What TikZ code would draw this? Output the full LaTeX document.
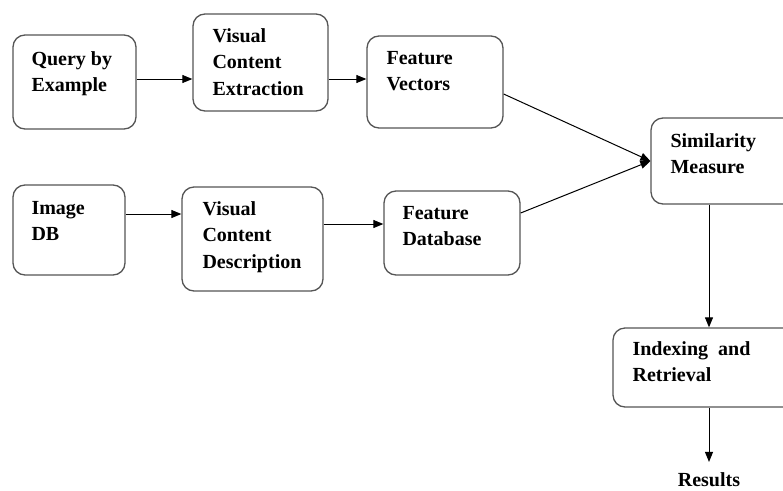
\documentclass[tikz,border=0pt]{standalone}
\usepackage{fontspec}
\setmainfont{Liberation Serif}
\usetikzlibrary{positioning,arrows.meta,calc}
\definecolor{cbEdge}{RGB}{85,85,85}
\newcommand{\boxlines}[1]{\begin{tabular}[t]{@{}l@{}}#1\end{tabular}}

\begin{document}
\begin{tikzpicture}[x=1pt, y=-1pt,
  box/.style={draw=cbEdge, line width=1.3pt, rounded corners=12pt, inner sep=0pt},
  lbl/.style={anchor=base west, inner sep=0pt, font=\bfseries\fontsize{20}{26.5}\selectfont},
  arr/.style={-{Triangle[length=10pt,width=8pt]}, line width=1pt}]
  \useasboundingbox (0,0) rectangle (783,490);
  \clip (0,0) rectangle (783,490);

  % Query side
  \node[box, minimum width=123pt, minimum height=94pt] (qbe) at (74.5,82) {};
  \node[lbl] (qbeText) at ($(qbe.north west)+(19,31)$) {\boxlines{Query by\\Example}};
  \node[box, minimum width=135pt, minimum height=97pt] (vce) at (260.5,62.5) {};
  \node[lbl] (vceText) at ($(vce.north west)+(20,29)$) {\boxlines{Visual\\Content\\Extraction}};
  \node[box, minimum width=136pt, minimum height=92pt] (fv) at (435,82) {};
  \node[lbl] (fvText) at ($(fv.north west)+(20,29)$) {\boxlines{Feature\\Vectors}};

  % Database side
  \node[box, minimum width=112pt, minimum height=90pt] (imgdb) at (69,230) {};
  \node[lbl] (imgdbText) at ($(imgdb.north west)+(19,30)$) {\boxlines{Image\\DB}};
  \node[box, minimum width=141pt, minimum height=104pt] (vcd) at (252.5,239) {};
  \node[lbl] (vcdText) at ($(vcd.north west)+(21,29)$) {\boxlines{Visual\\Content\\Description}};
  \node[box, minimum width=136pt, minimum height=84pt] (fdb) at (452,233) {};
  \node[lbl] (fdbText) at ($(fdb.north west)+(19,29)$) {\boxlines{Feature\\Database}};

  % Matching and output
  \node[box, minimum width=154pt, minimum height=86pt] (sm) at (728,161) {};
  \node[lbl] (smText) at ($(sm.north west)+(20,30)$) {\boxlines{Similarity\\Measure}};
  \node[box, minimum width=192pt, minimum height=79pt] (ir) at (709,367.5) {};
  \node[lbl] (irText) at ($(ir.north west)+(20,28)$) {\boxlines{Indexing\ \ and\\Retrieval}};
  \node[lbl, anchor=base] (res) at (709,486) {Results};

  % Arrows
  \draw[arr] ([yshift=3pt]qbe.east) -- ([yshift=-16.5pt]vce.west);
  \draw[arr] ([yshift=-16.5pt]vce.east) -- ([yshift=3pt]fv.west);
  \draw[arr] ([yshift=16pt]imgdb.east) -- ([yshift=25pt]vcd.west);
  \draw[arr] ([yshift=15pt]vcd.east) -- ([yshift=9pt]fdb.west);
  \draw[arr] ([yshift=-12pt]fv.east) -- (sm.west);
  \draw[arr] ([yshift=20pt]fdb.east) -- (sm.west);
  \draw[arr] (sm.south -| ir.north) -- (ir.north);
  \draw[arr, shorten >=10pt] (ir.south) -- (res.north);
\end{tikzpicture}
\end{document}
